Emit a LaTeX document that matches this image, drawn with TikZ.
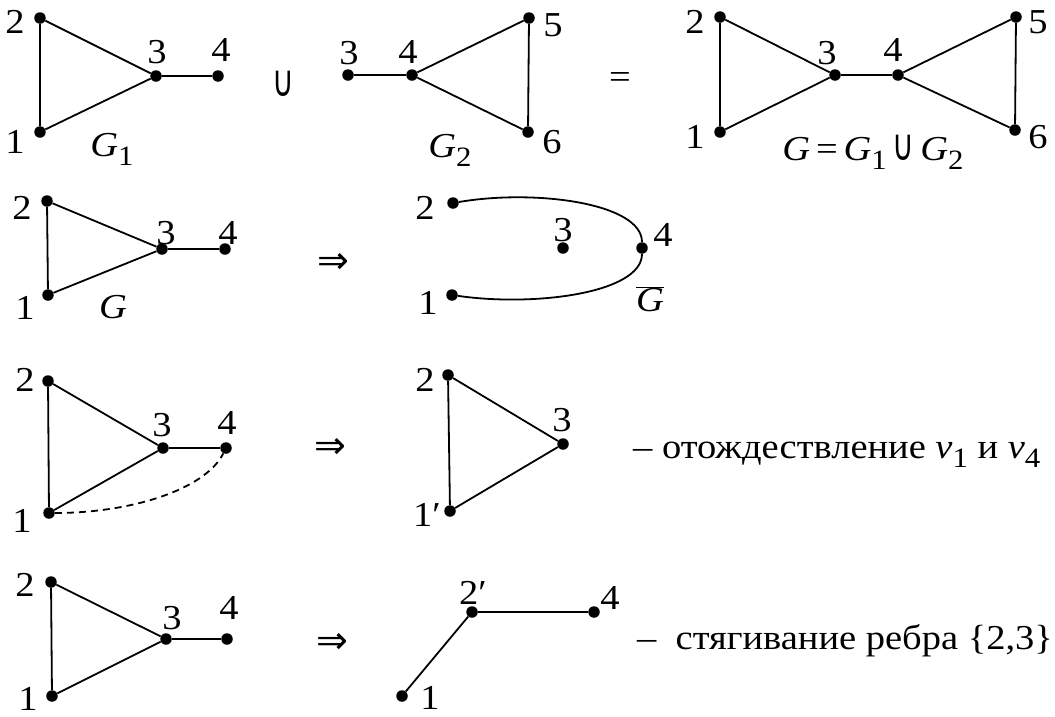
\documentclass[tikz,border=0pt]{standalone}
\usepackage{fontspec}
\setmainfont{Liberation Serif}[FakeStretch=1.1]
\newfontfamily\symf{DejaVu Sans}
\newcommand{\sbs}[1]{\raisebox{-9pt}{\fontsize{28}{28}\selectfont #1}}
\newcommand{\Gv}{\textit{G}}
\newcommand{\impl}{{\symf\fontsize{38}{40}\selectfont ⇒}}
\newcommand{\ucup}{\scalebox{0.85}[1.25]{\symf ∪}}
\begin{document}
\begin{tikzpicture}[x=1pt,y=-1pt,
  font=\fontsize{35}{40}\selectfont,
  vtx/.style={circle,fill=black,inner sep=0pt,minimum size=11.5pt},
  lbl/.style={inner sep=0pt},
  edge/.style={line width=1.8pt},
  dashedge/.style={line width=1.8pt,dash pattern=on 7pt off 5pt}]
\useasboundingbox (0,0) rectangle (1055,716);
% ---------- Row 1: G1
\node[vtx] (a1) at (40,132) {};
\node[vtx] (a2) at (40,18) {};
\node[vtx] (a3) at (156,76) {};
\node[vtx] (a4) at (218,76) {};
\draw[edge] (a1) -- (a2) -- (a3) -- (a1);
\draw[edge] (a3) -- (a4);
\node[lbl] (la2) at (15,22) {2};
\node[lbl] (la1) at (15,142) {1};
\node[lbl] (la3) at (157,52) {3};
\node[lbl] (la4) at (221,50) {4};
\node[lbl] (lG1) at (112,149) {\Gv\sbs{1}};
\node[lbl] (cup) at (283,84) {\ucup};
% ---------- G2
\node[vtx] (b3) at (348,75) {};
\node[vtx] (b4) at (412,75) {};
\node[vtx] (b5) at (529,18) {};
\node[vtx] (b6) at (528,132) {};
\draw[edge] (b3) -- (b4);
\draw[edge] (b4) -- (b5) -- (b6) -- (b4);
\node[lbl] (lb3) at (349,53) {3};
\node[lbl] (lb4) at (408,52) {4};
\node[lbl] (lb5) at (553,25) {5};
\node[lbl] (lb6) at (552,142) {6};
\node[lbl] (lG2) at (450,150) {\Gv\sbs{2}};
\node[lbl] (eq) at (620,80) {=};
% ---------- G
\node[vtx] (c1) at (720,132) {};
\node[vtx] (c2) at (720,17) {};
\node[vtx] (c3) at (835,75) {};
\node[vtx] (c4) at (898,75) {};
\node[vtx] (c5) at (1016,17) {};
\node[vtx] (c6) at (1015,130) {};
\draw[edge] (c1) -- (c2) -- (c3) -- (c1);
\draw[edge] (c3) -- (c4);
\draw[edge] (c4) -- (c5) -- (c6) -- (c4);
\node[lbl] (lc2) at (695,22) {2};
\node[lbl] (lc1) at (695,137) {1};
\node[lbl] (lc3) at (827,53) {3};
\node[lbl] (lc4) at (893,50) {4};
\node[lbl] (lc5) at (1038,22) {5};
\node[lbl] (lc6) at (1038,137) {6};
\node[lbl] (lGG) at (873,152) {\Gv\,=\,\Gv\sbs{1}\,\ucup\,\Gv\sbs{2}};
% ---------- Row 2: G and complement
\node[vtx] (d1) at (48,295) {};
\node[vtx] (d2) at (47,201) {};
\node[vtx] (d3) at (162,249) {};
\node[vtx] (d4) at (225,249) {};
\draw[edge] (d1) -- (d2) -- (d3) -- (d1);
\draw[edge] (d3) -- (d4);
\node[lbl] (ld2) at (22,208) {2};
\node[lbl] (ld1) at (25,308) {1};
\node[lbl] (ld3) at (166,233) {3};
\node[lbl] (ld4) at (228,233) {4};
\node[lbl] (lG) at (113,307) {\Gv};
\node[lbl] (arr1) at (333,263) {\impl};
\node[vtx] (e1) at (452,295) {};
\node[vtx] (e2) at (453,203) {};
\node[vtx] (e3) at (563,248) {};
\node[vtx] (e4) at (642,248) {};
\draw[edge] (e2) .. controls (535,189) and (642,203) .. (e4);
\draw[edge] (e4) .. controls (642,293) and (535,307) .. (e1);
\node[lbl] (le2) at (425,208) {2};
\node[lbl] (le1) at (428,303) {1};
\node[lbl] (le3) at (563,230) {3};
\node[lbl] (le4) at (663,235) {4};
\node[lbl] (lGb) at (650,299) {$\overline{\mbox{\Gv}}$};
% ---------- Row 3: identification
\node[vtx] (f1) at (49,513) {};
\node[vtx] (f2) at (48,381) {};
\node[vtx] (f3) at (163,448) {};
\node[vtx] (f4) at (226,448) {};
\draw[edge] (f1) -- (f2) -- (f3) -- (f1);
\draw[edge] (f3) -- (f4);
\draw[dashedge] (f1) .. controls (130,513) and (205,490) .. (f4);
\node[lbl] (lf2) at (25,380) {2};
\node[lbl] (lf1) at (22,521) {1};
\node[lbl] (lf3) at (162,425) {3};
\node[lbl] (lf4) at (227,423) {4};
\node[lbl] (arr2) at (330,448) {\impl};
\node[vtx] (g1) at (450,511) {};
\node[vtx] (g2) at (448,375) {};
\node[vtx] (g3) at (563,444) {};
\draw[edge] (g1) -- (g2) -- (g3) -- (g1);
\node[lbl] (lg2) at (425,380) {2};
\node[lbl] (lg1) at (427,515) {1′};
\node[lbl] (lg3) at (562,420) {3};
\node[lbl,anchor=base west] (t1) at (633,458) {– отождествление \textit{v}\sbs{1} и \textit{v}\sbs{4}};
% ---------- Row 4: contraction
\node[vtx] (h1) at (52,696) {};
\node[vtx] (h2) at (51,582) {};
\node[vtx] (h3) at (166,639) {};
\node[vtx] (h4) at (227,639) {};
\draw[edge] (h1) -- (h2) -- (h3) -- (h1);
\draw[edge] (h3) -- (h4);
\node[lbl] (lh2) at (25,585) {2};
\node[lbl] (lh1) at (28,699) {1};
\node[lbl] (lh3) at (172,618) {3};
\node[lbl] (lh4) at (229,608) {4};
\node[lbl] (arr3) at (332,643) {\impl};
\node[vtx] (i1) at (402,696) {};
\node[vtx] (i2) at (472,612) {};
\node[vtx] (i4) at (594,612) {};
\draw[edge] (i1) -- (i2) -- (i4);
\node[lbl] (li2) at (473,593) {2′};
\node[lbl] (li4) at (610,598) {4};
\node[lbl] (li1) at (430,698) {1};
\node[lbl,anchor=base west] (t2) at (637,649) {–\ \ стягивание ребра \{2,3\}};
\end{tikzpicture}
\end{document}
